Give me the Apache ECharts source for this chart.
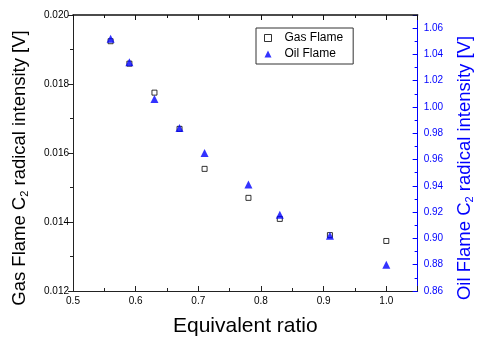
<!DOCTYPE html>
<html>
<head>
<meta charset="utf-8">
<script src="https://cdn.jsdelivr.net/npm/echarts@6/dist/echarts.min.js"></script>
<style>
  html, body { margin: 0; padding: 0; background: #fff; }
  #main { width: 483px; height: 349px; }
</style>
</head>
<body>
<div id="main"></div>
<script>
// equivalence ratios
var ratios = [0.56, 0.59, 0.63, 0.67, 0.71, 0.78, 0.83, 0.91, 1.0];
// gas flame C2 intensity [V] (left axis)
var gasValues = [0.01924, 0.01859, 0.01775, 0.01670, 0.01554, 0.01470, 0.01409, 0.01362, 0.01345];
// oil flame C2 intensity [V] (right axis)
var oilValues = [1.052, 1.034, 1.006, 0.984, 0.965, 0.941, 0.918, 0.902, 0.880];

var FONT = "'Liberation Sans', Arial, sans-serif";
var BLUE = '#0000ff';

function pairs(xs, ys) {
  return xs.map(function (x, i) { return [x, ys[i]]; });
}

var chart = echarts.init(document.getElementById('main'));

var option = {
  animation: false,
  backgroundColor: '#fff',
  textStyle: { fontFamily: FONT },
  grid: { left: 73, right: 53, top: 15, bottom: 58 },
  legend: {
    orient: 'vertical',
    left: 256,
    top: 28,
    padding: [4, 10, 4, 8],
    itemWidth: 7,
    itemHeight: 7,
    itemGap: 4,
    borderColor: '#333',
    borderWidth: 1,
    textStyle: { fontFamily: FONT, fontSize: 12, color: '#000', padding: [0, 0, 0, 8] },
    data: [
      { name: 'Gas Flame', icon: 'rect', itemStyle: { color: '#fff', borderColor: '#000', borderWidth: 1 } },
      { name: 'Oil Flame', icon: 'triangle' }
    ]
  },
  xAxis: [
    {
      type: 'value',
      position: 'bottom',
      min: 0.5,
      max: 1.05,
      interval: 0.1,
      splitLine: { show: false },
      axisLine: { show: true, onZero: false, lineStyle: { color: '#222', width: 1 } },
      axisTick: { show: true, inside: true, length: 5, lineStyle: { color: '#222' } },
      minorTick: { show: true, splitNumber: 2, length: 3, lineStyle: { color: '#222' } },
      name: 'Equivalent ratio',
      nameLocation: 'middle',
      nameGap: 25,
      nameTextStyle: { fontFamily: FONT, fontSize: 21, color: '#000' },
      axisLabel: {
        fontFamily: FONT, fontSize: 10, color: '#000', margin: 5,
        showMaxLabel: false,
        formatter: function (v) { return v.toFixed(1); }
      }
    },
    {
      // top frame, same scale as the bottom axis
      type: 'value',
      position: 'top',
      min: 0.5,
      max: 1.05,
      interval: 0.1,
      z: 10,
      splitLine: { show: false },
      axisLine: { show: true, onZero: false, lineStyle: { color: '#111', width: 1.5 } },
      axisTick: { show: true, inside: true, length: 5 },
      minorTick: { show: true, splitNumber: 2, length: 3 },
      axisLabel: { show: false }
    }
  ],
  yAxis: [
    {
      type: 'value',
      position: 'left',
      min: 0.012,
      max: 0.020,
      interval: 0.002,
      splitLine: { show: false },
      axisLine: { show: true, onZero: false, lineStyle: { color: '#222', width: 1 } },
      axisTick: { show: true, inside: false, length: 5, lineStyle: { color: '#222' } },
      minorTick: { show: true, splitNumber: 2, length: 3, lineStyle: { color: '#222' } },
      axisLabel: {
        fontFamily: FONT, fontSize: 10, color: '#000', margin: 4,
        formatter: function (v) { return v.toFixed(3); }
      },
      name: '{n|Gas Flame C}{s|2}{n| radical intensity [V]}',
      nameLocation: 'middle',
      nameGap: 42,
      nameTextStyle: {
        fontFamily: FONT, color: '#000',
        padding: [0, 30, 0, 0],
        rich: {
          n: { fontFamily: FONT, fontSize: 18.5, color: '#000', lineHeight: 22 },
          s: { fontFamily: FONT, fontSize: 11, color: '#000', lineHeight: 11, padding: [10, 0, 0, 0] }
        }
      }
    },
    {
      type: 'value',
      position: 'right',
      min: 0.86,
      max: 1.07,
      interval: 0.02,
      splitLine: { show: false },
      axisLine: { show: true, onZero: false, lineStyle: { color: BLUE, width: 1 } },
      axisTick: { show: true, inside: true, length: 5, lineStyle: { color: BLUE } },
      minorTick: { show: true, splitNumber: 2, length: 3, lineStyle: { color: BLUE } },
      axisLabel: {
        fontFamily: FONT, fontSize: 10, color: BLUE, margin: 6,
        showMaxLabel: false,
        formatter: function (v) { return v.toFixed(2); }
      },
      name: '{n|Oil Flame C}{s|2}{n| radical intensity [V]}',
      nameLocation: 'middle',
      nameRotate: 90,
      nameGap: 33,
      nameTextStyle: {
        fontFamily: FONT, color: BLUE,
        padding: [0, 30, 0, 0],
        rich: {
          n: { fontFamily: FONT, fontSize: 18.5, color: BLUE, lineHeight: 22 },
          s: { fontFamily: FONT, fontSize: 11, color: BLUE, lineHeight: 11, padding: [10, 0, 0, 0] }
        }
      }
    }
  ],
  series: [
    {
      name: 'Gas Flame',
      type: 'scatter',
      xAxisIndex: 0,
      yAxisIndex: 0,
      symbol: 'rect',
      symbolSize: 5,
      itemStyle: { color: '#fff', borderColor: '#000', borderWidth: 1 },
      data: pairs(ratios, gasValues)
    },
    {
      name: 'Oil Flame',
      type: 'scatter',
      xAxisIndex: 0,
      yAxisIndex: 1,
      symbol: 'triangle',
      symbolSize: 8,
      itemStyle: { color: BLUE },
      data: pairs(ratios, oilValues)
    }
  ]
};

chart.setOption(option);
</script>
</body>
</html>
